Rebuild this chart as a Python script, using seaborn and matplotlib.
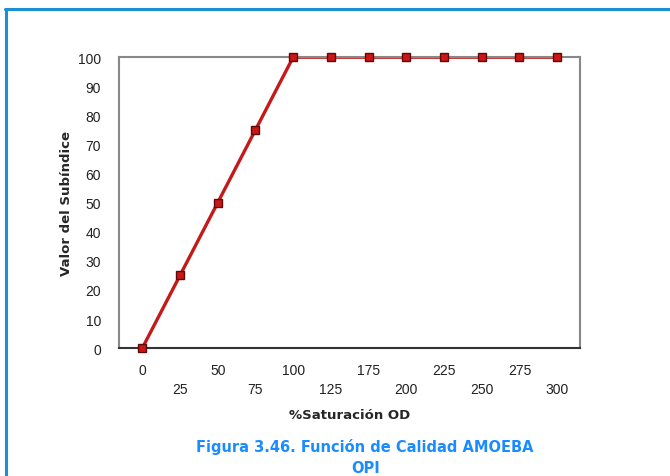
import matplotlib
matplotlib.use("Agg")
import matplotlib.pyplot as plt
import seaborn as sns
import numpy as np
import pandas as pd
from matplotlib.lines import Line2D

sns.set_style("white")
plt.rcParams['font.family'] = ['DejaVu Sans']

categories = ["0", "25", "50", "75", "100", "125", "175", "200", "225", "250", "275", "300"]
values = [0, 25, 50, 75, 100, 100, 100, 100, 100, 100, 100, 100]

df = pd.DataFrame({"pos": np.arange(len(categories)), "val": values})

fig = plt.figure(figsize=(6.7, 4.77), dpi=100)
ax = fig.add_axes([0.178, 0.268, 0.688, 0.61])

sns.lineplot(data=df, x="pos", y="val", ax=ax, color="#c41a1a", linewidth=2.4)
# markers unclipped overlay
ax.plot(df["pos"], df["val"], linestyle="none", marker="s", markersize=6,
        markerfacecolor="#cc1515", markeredgecolor="#5a0a0a", markeredgewidth=1.0,
        clip_on=False, zorder=5)

ax.set_xlim(-0.61, len(categories) - 1 + 0.61)
ax.set_ylim(0, 100)
ax.set_yticks(np.arange(0, 101, 10))
ax.set_yticklabels([str(v) for v in range(0, 101, 10)], fontsize=10, color="#222222",
                   family="Liberation Sans")
ax.set_xticks(df["pos"])
labels = []
for i, c in enumerate(categories):
    labels.append(c if i % 2 == 0 else "\n" + c)
ax.set_xticklabels(labels, fontsize=10, color="#222222", family="Liberation Sans",
                   linespacing=1.4)
ax.tick_params(axis="x", length=0, pad=11)
ax.tick_params(axis="y", length=0, pad=13)

for side in ["top", "right", "left"]:
    ax.spines[side].set_color("#888888")
    ax.spines[side].set_linewidth(1.5)
ax.spines["bottom"].set_color("#333333")
ax.spines["bottom"].set_linewidth(1.5)

ax.set_xlabel("%Saturación OD", fontsize=9.5, fontweight="bold", labelpad=9)
ax.set_ylabel("Valor del Subíndice", fontsize=9.5, fontweight="bold", labelpad=4)

fig.text(0.545, 0.063, "Figura 3.46. Función de Calidad AMOEBA", color="#1a8cff",
         fontsize=10.5, fontweight="bold", ha="center", va="center")
fig.text(0.545, 0.018, "OPI", color="#1a8cff",
         fontsize=10.5, fontweight="bold", ha="center", va="center")

# blue frame
fig.add_artist(Line2D([0.008, 1.0], [1 - 10/477, 1 - 10/477], color="#1b8fd6", linewidth=2.2,
                      transform=fig.transFigure))
fig.add_artist(Line2D([0.009, 0.009], [0.0, 1 - 10/477], color="#1b8fd6", linewidth=2.2,
                      transform=fig.transFigure))

fig.savefig("out.png", dpi=100)
